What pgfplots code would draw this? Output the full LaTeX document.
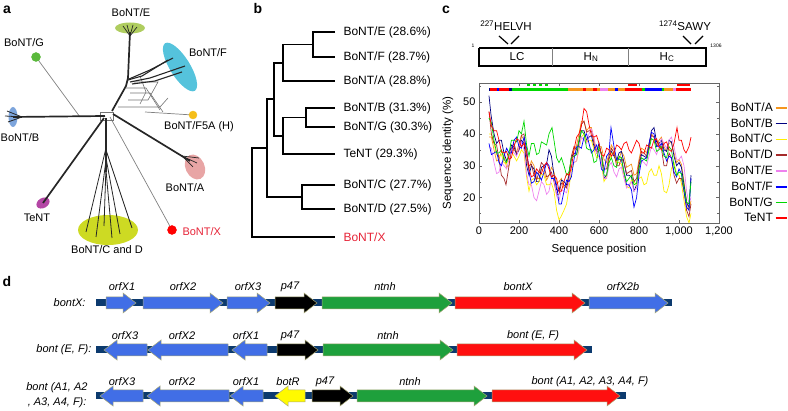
\documentclass[border=0pt]{standalone}
\usepackage{fontspec}
\setmainfont{Liberation Sans}
\usepackage{pgfplots}
\pgfplotsset{compat=1.18}
\definecolor{cA}{RGB}{245,150,30}
\definecolor{cB}{RGB}{0,0,128}
\definecolor{cC}{RGB}{255,238,0}
\definecolor{cD}{RGB}{165,42,42}
\definecolor{cE}{RGB}{238,130,238}
\definecolor{cF}{RGB}{0,0,255}
\definecolor{cG}{RGB}{0,215,0}
\definecolor{cT}{RGB}{255,0,0}
\definecolor{gblue}{RGB}{65,110,230}
\definecolor{ggreen}{RGB}{30,160,60}
\definecolor{gred}{RGB}{255,15,15}
\definecolor{gyellow}{RGB}{255,250,0}
\definecolor{gback}{RGB}{12,58,110}
\definecolor{gedge}{RGB}{170,170,120}
\definecolor{xred}{RGB}{230,35,55}
\definecolor{elE}{RGB}{175,205,95}
\definecolor{elF}{RGB}{85,195,220}
\definecolor{elG}{RGB}{90,185,60}
\definecolor{elB}{RGB}{125,165,220}
\definecolor{elH}{RGB}{245,190,25}
\definecolor{elA}{RGB}{232,165,165}
\definecolor{elT}{RGB}{180,70,165}
\definecolor{elCD}{RGB}{205,218,35}
\newcommand{\fs}[1]{\fontsize{#1}{#1}\selectfont}
% right-pointing gene arrow: start, tip, centre y, colour
\newcommand{\gR}[4]{%
\pgfmathsetmacro\gxh{#2-13}\pgfmathsetmacro\gya{#3-6}\pgfmathsetmacro\gyb{#3+6}%
\pgfmathsetmacro\gyc{#3-10}\pgfmathsetmacro\gyd{#3+10}%
\addplot[fill=#4, draw=gedge, line width=0.5pt] coordinates {(#1,\gya) (\gxh,\gya) (\gxh,\gyc) (#2,#3) (\gxh,\gyd) (\gxh,\gyb) (#1,\gyb) (#1,\gya)};}
% left-pointing gene arrow: tip, end, centre y, colour
\newcommand{\gL}[4]{%
\pgfmathsetmacro\gxh{#1+13}\pgfmathsetmacro\gya{#3-6}\pgfmathsetmacro\gyb{#3+6}%
\pgfmathsetmacro\gyc{#3-10}\pgfmathsetmacro\gyd{#3+10}%
\addplot[fill=#4, draw=gedge, line width=0.5pt] coordinates {(#2,\gya) (\gxh,\gya) (\gxh,\gyc) (#1,#3) (\gxh,\gyd) (\gxh,\gyb) (#2,\gyb) (#2,\gya)};}
\begin{document}
\begin{tikzpicture}
\useasboundingbox (0,0) rectangle (788pt,411pt);
\begin{axis}[at={(0pt,0pt)}, anchor=south west, width=788pt, height=411pt, scale only axis,
  xmin=0, xmax=788, ymin=0, ymax=411, y dir=reverse, hide axis, clip=false]
% ---------- panel letters
\node[font=\bfseries\fs{14}] at (axis cs:7,10) {a};
\node[font=\bfseries\fs{14}] at (axis cs:258,9) {b};
\node[font=\bfseries\fs{14}] at (axis cs:446,10) {c};
\node[font=\bfseries\fs{14}] at (axis cs:7,281) {d};
% ---------- panel a: clade blobs
\fill[elE] (axis cs:130,28) ellipse [x radius=15pt, y radius=5.5pt];
\fill[elF] (axis cs:180,67) ellipse [x radius=28pt, y radius=10pt, rotate=-58];
\fill[elB] (axis cs:13,117) ellipse [x radius=4.5pt, y radius=10pt];
\fill[elA] (axis cs:195,167) ellipse [x radius=9.5pt, y radius=13pt, rotate=25];
\fill[elT] (axis cs:43,203) ellipse [x radius=7pt, y radius=5pt, rotate=30];
\fill[elCD] (axis cs:108,230) ellipse [x radius=30pt, y radius=15pt];
\addplot[only marks, mark=*, mark size=4.5pt, elG] coordinates {(36,57)};
\addplot[only marks, mark=*, mark size=4pt, elH] coordinates {(193,115)};
\addplot[only marks, mark=*, mark size=4.5pt, red] coordinates {(172,230)};
% thin grey branches
\addplot[gray, line width=0.7pt] coordinates {(80,117) (36,57)};
\addplot[gray, line width=0.7pt] coordinates {(110,117) (172,230)};
\addplot[gray, line width=0.7pt] coordinates {(145,112) (193,115)};
\addplot[black!55, line width=0.6pt] coordinates {(126,88) (146,88) (160,110)};
\addplot[black!55, line width=0.6pt] coordinates {(130,93) (150,93) (163,112)};
\addplot[black!55, line width=0.6pt] coordinates {(134,82) (158,82) (148,100) (128,100)};
\addplot[black!55, line width=0.6pt] coordinates {(118,107) (160,107) (168,98)};
\addplot[black!55, line width=0.6pt] coordinates {(140,76) (146,92) (140,104)};
\addplot[black!55, line width=0.6pt] coordinates {(100,112) (113,112) (113,120) (100,120) (100,112)};
% thick branches
\addplot[black!85, line width=1.7pt] coordinates {(105,116) (13,117)};
\addplot[black!85, line width=0.8pt] coordinates {(22,117) (7,111)};
\addplot[black!85, line width=0.8pt] coordinates {(22,117) (5,116)};
\addplot[black!85, line width=0.8pt] coordinates {(22,117) (8,122)};
\addplot[black!85, line width=1.7pt] coordinates {(112,111) (126,86) (128,78) (130,32)};
\addplot[black!85, line width=0.7pt] coordinates {(130,36) (123,26)};
\addplot[black!85, line width=0.7pt] coordinates {(130,36) (127,25)};
\addplot[black!85, line width=0.7pt] coordinates {(130,36) (133,25)};
\addplot[black!85, line width=0.7pt] coordinates {(130,36) (137,27)};
\addplot[black!85, line width=1.1pt] coordinates {(128,80) (142,76) (168,60)};
\addplot[black!85, line width=1.1pt] coordinates {(130,82) (150,78) (185,66)};
\addplot[black!85, line width=1.1pt] coordinates {(132,84) (155,81) (182,72)};
\addplot[black!85, line width=1.1pt] coordinates {(129,79) (150,70) (173,58)};
\addplot[black!85, line width=1.7pt] coordinates {(113,114) (190,161)};
\addplot[black!85, line width=0.7pt] coordinates {(182,156) (199,158)};
\addplot[black!85, line width=0.7pt] coordinates {(182,156) (197,163)};
\addplot[black!85, line width=0.7pt] coordinates {(182,156) (193,167)};
\addplot[black!85, line width=1.7pt] coordinates {(104,118) (43,203)};
\addplot[black!85, line width=1.7pt] coordinates {(106,118) (106,172)};
\addplot[black!85, line width=0.8pt] coordinates {(106,148) (86,232)};
\addplot[black!85, line width=0.8pt] coordinates {(106,160) (96,237)};
\addplot[black!85, line width=0.8pt] coordinates {(106,166) (104,226)};
\addplot[black!85, line width=0.8pt] coordinates {(106,170) (112,238)};
\addplot[black!85, line width=0.8pt] coordinates {(106,158) (120,234)};
\addplot[black!85, line width=0.8pt] coordinates {(106,150) (132,228)};
% labels panel a
\node[font=\fs{11}] at (axis cs:131,13) {BoNT/E};
\node[font=\fs{11}] at (axis cs:24,43) {BoNT/G};
\node[font=\fs{11}] at (axis cs:208,53) {BoNT/F};
\node[font=\fs{11}] at (axis cs:20,138) {BoNT/B};
\node[font=\fs{11}] at (axis cs:199,127) {BoNT/F5A (H)};
\node[font=\fs{11}] at (axis cs:185,188) {BoNT/A};
\node[font=\fs{11}] at (axis cs:37,218) {TeNT};
\node[font=\fs{11}] at (axis cs:107,250) {BoNT/C and D};
\node[font=\fs{11}, text=xred, anchor=west] at (axis cs:179,232) {BoNT/X};
% ---------- panel b: dendrogram
\addplot[black, line width=1.8pt] coordinates {(335,32) (313,32) (313,57) (335,57)};
\addplot[black, line width=1.8pt] coordinates {(313,44.5) (283,44.5) (283,81) (335,81)};
\addplot[black, line width=1.8pt] coordinates {(335,108) (306,108) (306,127) (335,127)};
\addplot[black, line width=1.8pt] coordinates {(306,117.5) (283,117.5) (283,154) (335,154)};
\addplot[black, line width=1.8pt] coordinates {(283,63) (274,63) (274,136) (283,136)};
\addplot[black, line width=1.8pt] coordinates {(335,185) (302,185) (302,209) (335,209)};
\addplot[black, line width=1.8pt] coordinates {(274,99) (267,99) (267,197) (302,197)};
\addplot[black, line width=1.8pt] coordinates {(267,148) (252,148) (252,237) (335,237)};
\node[font=\fs{12}, anchor=west] at (axis cs:340,32) {BoNT/E (28.6\%)};
\node[font=\fs{12}, anchor=west] at (axis cs:340,57) {BoNT/F (28.7\%)};
\node[font=\fs{12}, anchor=west] at (axis cs:340,81) {BoNT/A (28.8\%)};
\node[font=\fs{12}, anchor=west] at (axis cs:340,108) {BoNT/B (31.3\%)};
\node[font=\fs{12}, anchor=west] at (axis cs:340,127) {BoNT/G (30.3\%)};
\node[font=\fs{12}, anchor=west] at (axis cs:340,154) {TeNT (29.3\%)};
\node[font=\fs{12}, anchor=west] at (axis cs:340,185) {BoNT/C (27.7\%)};
\node[font=\fs{12}, anchor=west] at (axis cs:340,209) {BoNT/D (27.5\%)};
\node[font=\fs{12}, anchor=west, text=xred] at (axis cs:340,237) {BoNT/X};
% ---------- panel c: domain bar
\addplot[black, line width=1.3pt] coordinates {(479,48) (706,48) (706,66) (479,66) (479,48)};
\addplot[gray, line width=0.8pt] coordinates {(552,48) (552,66)};
\addplot[gray, line width=0.8pt] coordinates {(628,48) (628,66)};
\node[font=\fs{11.5}] at (axis cs:517,57) {LC};
\node[font=\fs{11.5}] at (axis cs:591,57) {H\textsubscript{N}};
\node[font=\fs{11.5}] at (axis cs:667,57) {H\textsubscript{C}};
\node[font=\fs{5}] at (axis cs:473,46) {1};
\node[font=\fs{5}] at (axis cs:716,46) {1306};
\node[font=\fs{11.5}] at (axis cs:506,26) {\textsuperscript{227}HELVH};
\node[font=\fs{11.5}] at (axis cs:685,26) {\textsuperscript{1274}SAWY};
\addplot[black, line width=1.2pt] coordinates {(499,36) (508,44)};
\addplot[black, line width=1.2pt] coordinates {(519,36) (511,44)};
\addplot[black, line width=1.2pt] coordinates {(683,36) (691,44)};
\addplot[black, line width=1.2pt] coordinates {(703,36) (695,44)};
% ---------- panel d: gene clusters
\addplot[gback, line width=7pt] coordinates {(96,303) (672,303)};
\addplot[gback, line width=7pt] coordinates {(96,350) (592,350)};
\addplot[gback, line width=7pt] coordinates {(96,396) (626,396)};
\gR{106}{136}{303}{gblue}
\gR{143}{223}{303}{gblue}
\gR{227}{270}{303}{gblue}
\gR{275}{317}{303}{black}
\gR{322}{452}{303}{ggreen}
\gR{455}{585}{303}{gred}
\gR{589}{668}{303}{gblue}
\gL{104}{147}{350}{gblue}
\gL{148}{228}{350}{gblue}
\gL{232}{267}{350}{gblue}
\gR{277}{318}{350}{black}
\gR{323}{453}{350}{ggreen}
\gR{457}{587}{350}{gred}
\gL{100}{143}{396}{gblue}
\gL{147}{229}{396}{gblue}
\gL{230}{263}{396}{gblue}
\gL{275}{305}{396}{gyellow}
\gR{312}{353}{396}{black}
\gR{357}{487}{396}{ggreen}
\gR{492}{620}{396}{gred}
\node[font=\itshape\fs{11}, anchor=east] at (axis cs:89,303) {bontX:};
\node[font=\itshape\fs{11}, anchor=east] at (axis cs:95,350) {bont (E, F):};
\node[font=\itshape\fs{11}, anchor=east] at (axis cs:91,388) {bont (A1, A2};
\node[font=\itshape\fs{11}, anchor=east] at (axis cs:90,403) {, A3, A4, F):};
\node[font=\itshape\fs{11}] at (axis cs:122,287) {orfX1};
\node[font=\itshape\fs{11}] at (axis cs:183,287) {orfX2};
\node[font=\itshape\fs{11}] at (axis cs:248,287) {orfX3};
\node[font=\itshape\fs{11}] at (axis cs:290,287) {p47};
\node[font=\itshape\fs{11}] at (axis cs:385,287) {ntnh};
\node[font=\itshape\fs{11}] at (axis cs:518,287) {bontX};
\node[font=\itshape\fs{11}] at (axis cs:623,287) {orfX2b};
\node[font=\itshape\fs{11}] at (axis cs:125,336) {orfX3};
\node[font=\itshape\fs{11}] at (axis cs:182,336) {orfX2};
\node[font=\itshape\fs{11}] at (axis cs:246,336) {orfX1};
\node[font=\itshape\fs{11}] at (axis cs:290,336) {p47};
\node[font=\itshape\fs{11}] at (axis cs:388,336) {ntnh};
\node[font=\itshape\fs{11}] at (axis cs:533,336) {bont (E, F)};
\node[font=\itshape\fs{11}] at (axis cs:122,382) {orfX3};
\node[font=\itshape\fs{11}] at (axis cs:182,382) {orfX2};
\node[font=\itshape\fs{11}] at (axis cs:246,382) {orfX1};
\node[font=\itshape\fs{11}] at (axis cs:288,382) {botR};
\node[font=\itshape\fs{11}] at (axis cs:325,382) {p47};
\node[font=\itshape\fs{11}] at (axis cs:410,382) {ntnh};
\node[font=\itshape\fs{11}] at (axis cs:590,382) {bont (A1, A2, A3, A4, F)};
\end{axis}
% ---------- panel c: sequence identity plot
\begin{axis}[at={(479pt,188pt)}, anchor=south west, width=240pt, height=140pt, scale only axis,
  xmin=0, xmax=1200, ymin=12, ymax=56,
  xtick={0,200,400,600,800,1000,1200}, xticklabels={0,200,400,600,800,{1,000},{1,200}},
  ytick={20,30,40,50}, minor ytick={15,25,35,45,55},
  tick align=inside, tick pos=both, major tick length=3pt, minor tick length=2pt,
  axis line style={black!60, line width=0.8pt}, tick style={black!60},
  /pgf/number format/assume math mode=true,
  ticklabel style={font=\fs{11}},
  xlabel={Sequence position}, ylabel={Sequence identity (\%)},
  label style={font=\fs{11.5}},
  xlabel style={at={(axis description cs:0.5,-0.19)}, anchor=center},
  ylabel style={at={(axis description cs:-0.13,0.5)}, anchor=center},
  legend style={at={(axis description cs:1.2875,0.875)}, anchor=north east, draw=none, fill=none,
    font=\fs{12}, inner sep=0pt, row sep=1.6pt},
  legend cell align=right, legend plot pos=right,
  legend image code/.code={\draw[#1, line width=1.6pt] (0cm,0cm) -- (0.4cm,0cm);},
  every axis plot/.append style={line width=0.7pt}]
\addplot[cA] coordinates {(50,39) (62,39) (75,35) (88,31.5) (100,32) (112,34.5) (125,33) (138,29.5) (150,30) (162,34.5) (175,35) (188,34) (200,37) (212,39.5) (225,38) (238,31.5) (250,29) (262,31.5) (275,30) (288,26) (300,26) (312,29) (325,28) (338,25.5) (350,27) (362,29.5) (375,28) (388,24.5) (400,25) (412,26) (425,23) (438,23.5) (450,28) (462,32.5) (475,35) (488,36.5) (500,40) (512,44) (525,44) (538,41) (550,42) (562,42) (575,38) (588,35) (600,36) (612,36) (625,32) (638,31) (650,34) (662,36.5) (675,35) (688,31.5) (700,32) (712,34.5) (725,33) (738,29.5) (750,30) (762,30.5) (775,27) (788,27.5) (800,32) (812,35.5) (825,35) (838,34) (850,37) (862,40) (875,39) (888,36.5) (900,38) (912,39) (925,36) (938,34.5) (950,37) (962,37.5) (975,34) (988,31) (1000,32) (1012,30.5) (1025,25) (1038,18.5) (1050,16) (1060,19)};
\addplot[cB] coordinates {(50,52) (60,46) (75,40) (88,37) (100,38) (112,38) (125,34) (138,31.5) (150,33) (162,36.5) (175,36) (188,33.5) (200,35) (212,38) (225,37) (238,30) (250,27) (262,30) (275,29) (288,25) (300,25) (312,29.5) (325,30) (338,30.5) (350,35) (362,33) (375,27) (388,22.5) (400,22) (412,25.5) (425,25) (438,24) (450,27) (462,32.5) (475,34) (488,33.5) (500,37) (512,41) (525,41) (538,38) (550,39) (562,39.5) (575,36) (588,34.5) (600,37) (612,33.5) (625,26) (638,27) (650,32) (662,34.5) (675,33) (688,31.5) (700,34) (712,34.5) (725,31) (738,27) (750,27) (762,26.5) (775,22) (788,24) (800,30) (812,33.5) (825,33) (838,32.5) (850,36) (862,41) (875,42) (888,37.5) (900,37) (912,38) (925,35) (938,34.5) (950,38) (962,37.5) (975,33) (988,30) (1000,31) (1012,29.5) (1025,24) (1038,18.5) (1050,17) (1060,27)};
\addplot[cC] coordinates {(50,40) (62,40) (75,37) (88,33.5) (100,33) (112,33.5) (125,31) (138,30.5) (150,33) (162,34.5) (175,33) (188,31.5) (200,33) (212,35) (225,34) (238,26.5) (250,22) (262,25.5) (275,26) (288,24) (300,25) (312,27.5) (325,27) (338,24) (350,24) (362,24.5) (375,22) (388,16) (400,13) (410,14) (425,16) (438,18) (450,23) (462,28.5) (475,31) (488,31.5) (500,35) (512,39) (525,40) (538,37.5) (550,38) (562,38) (575,35) (588,32.5) (600,33) (612,30.5) (625,25) (638,26.5) (650,31) (662,34) (675,34) (688,31) (700,31) (712,30.5) (725,27) (738,23.5) (750,23) (762,25.5) (775,25) (788,24) (800,26) (812,26.5) (825,24) (838,24.5) (850,28) (862,29) (875,27) (888,27) (900,30) (912,27.5) (925,22) (938,21.5) (950,24) (962,29) (975,31) (988,27.5) (1000,27) (1012,24.5) (1025,19) (1038,14) (1050,12) (1060,15)};
\addplot[cD] coordinates {(50,47) (62,40) (75,37) (88,36.5) (100,32) (112,27) (125,26) (135,24) (150,30) (162,35.5) (175,37) (188,34) (200,35) (212,39.5) (225,40) (238,33) (250,30) (262,30.5) (275,27) (288,25.5) (300,28) (312,31) (325,30) (338,26.5) (350,27) (362,28) (375,25) (388,21) (400,21) (412,24.5) (425,24) (438,23) (450,26) (462,33) (475,36) (488,35) (500,38) (512,43) (525,44) (538,40.5) (550,41) (562,41) (575,37) (588,34) (600,35) (612,34) (625,29) (638,29) (650,33) (662,35.5) (675,34) (688,30) (700,30) (712,32.5) (725,31) (738,27.5) (750,28) (762,28.5) (775,25) (788,26) (800,31) (812,34.5) (825,34) (838,33) (850,36) (862,39.5) (875,39) (888,36) (900,37) (912,35.5) (925,30) (938,30) (950,34) (962,32.5) (975,27) (988,24.5) (1000,26) (1012,26) (1025,22) (1038,16) (1050,14) (1060,18)};
\addplot[cE] coordinates {(50,36) (62,35.5) (75,31) (88,27.5) (100,28) (112,31) (125,30) (138,29) (150,32) (162,35) (175,34) (188,33) (200,36) (212,37.5) (225,35) (238,27.5) (250,24) (262,24) (275,20) (288,19) (300,22) (312,25) (325,24) (338,21) (350,22) (362,26) (375,26) (388,20.5) (400,19) (412,22.5) (425,22) (438,21.5) (450,25) (462,30) (475,31) (488,31.5) (500,36) (512,39) (525,38) (538,37) (550,40) (562,41.5) (575,39) (588,34) (600,33) (612,31.5) (625,26) (638,26) (650,30) (662,31) (675,28) (688,26.5) (700,29) (712,29.5) (725,26) (738,23) (750,24) (762,25) (775,22) (788,23) (800,28) (812,31.5) (825,31) (838,30) (850,33) (862,36) (875,35) (888,33.5) (900,36) (912,38.5) (925,37) (938,35.5) (950,38) (962,39) (975,36) (988,32) (1000,32) (1012,33) (1025,30) (1038,22) (1050,18) (1060,20)};
\addplot[cF] coordinates {(50,37) (62,33.5) (75,34) (88,34.5) (100,31) (112,30) (125,33) (138,35.5) (150,34) (162,34) (175,38) (188,39) (200,36) (212,35.5) (225,39) (238,35.5) (250,28) (262,24.5) (275,25) (288,28) (300,27) (312,25.5) (325,28) (338,31) (350,30) (362,26) (375,26) (388,24) (400,18) (412,18) (425,22) (438,25.5) (450,25) (462,26.5) (475,32) (488,36) (500,36) (512,35.5) (525,39) (538,40) (550,37) (562,34) (575,35) (588,36.5) (600,34) (612,29) (625,28) (638,33) (650,34) (660,42) (675,36) (688,32) (700,32) (712,32) (725,28) (738,24) (750,24) (762,22.5) (775,17) (788,20) (800,27) (812,31.5) (825,32) (838,32.5) (850,37) (862,40.5) (875,40) (888,36) (900,36) (912,37) (925,34) (938,31.5) (950,33) (962,32.5) (975,28) (988,26.5) (1000,29) (1012,27.5) (1025,22) (1038,17) (1050,16) (1060,26)};
\addplot[cG] coordinates {(50,45) (62,43.5) (75,38) (88,34) (100,34) (112,35) (125,32) (138,31) (150,34) (162,38) (175,38) (188,37.5) (200,41) (212,40) (225,44) (238,36.5) (250,33) (262,37) (275,37) (288,33.5) (300,34) (312,37.5) (325,37) (338,36.5) (350,40) (365,42) (375,38) (388,32.5) (400,31) (412,32.5) (425,30) (438,27) (450,28) (462,32.5) (475,33) (488,33.5) (500,38) (512,41) (525,40) (538,35.5) (550,35) (562,35) (575,31) (588,31.5) (600,36) (612,33.5) (625,27) (638,27) (650,31) (662,32.5) (675,30) (688,29.5) (700,33) (712,32.5) (725,28) (738,25) (750,26) (762,27) (775,24) (788,24.5) (800,29) (812,32.5) (825,32) (838,31.5) (850,35) (862,38.5) (875,38) (888,34.5) (900,35) (912,36) (925,33) (938,32.5) (950,36) (962,35) (975,30) (988,27) (1000,28) (1012,27.5) (1025,23) (1038,18.5) (1050,18) (1060,25)};
\addplot[cT] coordinates {(50,47) (62,42.5) (75,41) (88,41) (100,38) (112,34.5) (125,34) (138,34.5) (150,32) (162,32.5) (175,36) (188,38.5) (200,38) (212,36) (225,37) (238,34.5) (250,29) (262,26.5) (275,27) (288,29) (300,28) (312,27.5) (325,30) (338,31) (350,29) (362,26.5) (375,27) (388,26) (400,22) (412,22) (425,25) (438,27.5) (450,27) (462,29.5) (475,35) (488,39) (500,40) (512,42.5) (525,48) (538,47) (550,43) (562,39.5) (575,39) (588,39.5) (600,37) (612,33.5) (625,33) (638,35.5) (650,35) (662,33) (675,34) (688,36.5) (700,36) (712,35) (725,37) (738,37.5) (750,35) (762,34) (775,36) (788,38) (800,37) (812,34) (825,34) (838,36.5) (850,36) (862,35.5) (875,38) (888,38.5) (900,36) (912,35) (925,37) (938,37.5) (950,35) (962,34.5) (975,37) (990,42) (1000,38) (1012,38) (1025,35) (1035,34) (1050,36) (1060,39)};
\legend{BoNT/A,BoNT/B,BoNT/C,BoNT/D,BoNT/E,BoNT/F,BoNT/G,TeNT}
% best-match strip
\addplot[forget plot, cB, line width=3.5pt] coordinates {(50,54) (55,54)};
\addplot[forget plot, cT, line width=3.5pt] coordinates {(55,54) (90,54)};
\addplot[forget plot, cF, line width=3.5pt] coordinates {(90,54) (100,54)};
\addplot[forget plot, cT, line width=3.5pt] coordinates {(100,54) (150,54)};
\addplot[forget plot, cB, line width=3.5pt] coordinates {(150,54) (165,54)};
\addplot[forget plot, cG, line width=3.5pt] coordinates {(165,54) (445,54)};
\addplot[forget plot, cA, line width=3.5pt] coordinates {(445,54) (520,54)};
\addplot[forget plot, cT, line width=3.5pt] coordinates {(520,54) (535,54)};
\addplot[forget plot, cA, line width=3.5pt] coordinates {(535,54) (570,54)};
\addplot[forget plot, cT, line width=3.5pt] coordinates {(570,54) (590,54)};
\addplot[forget plot, cA, line width=3.5pt] coordinates {(590,54) (605,54)};
\addplot[forget plot, cE, line width=3.5pt] coordinates {(605,54) (645,54)};
\addplot[forget plot, cA, line width=3.5pt] coordinates {(645,54) (680,54)};
\addplot[forget plot, cF, line width=3.5pt] coordinates {(680,54) (695,54)};
\addplot[forget plot, cA, line width=3.5pt] coordinates {(695,54) (730,54)};
\addplot[forget plot, cT, line width=3.5pt] coordinates {(730,54) (815,54)};
\addplot[forget plot, cG, line width=3.5pt] coordinates {(815,54) (830,54)};
\addplot[forget plot, cF, line width=3.5pt] coordinates {(830,54) (915,54)};
\addplot[forget plot, cG, line width=3.5pt] coordinates {(915,54) (925,54)};
\addplot[forget plot, cA, line width=3.5pt] coordinates {(925,54) (970,54)};
\addplot[forget plot, cE, line width=3.5pt] coordinates {(970,54) (985,54)};
\addplot[forget plot, cT, line width=3.5pt] coordinates {(985,54) (1060,54)};
\addplot[forget plot, cG, line width=1.5pt, dashed] coordinates {(240,55.4) (360,55.4)};
\addplot[forget plot, cT, line width=1.5pt] coordinates {(745,55.4) (790,55.4)};
\addplot[forget plot, cT, line width=1.5pt] coordinates {(990,55.4) (1055,55.4)};
\end{axis}
\end{tikzpicture}
\end{document}
